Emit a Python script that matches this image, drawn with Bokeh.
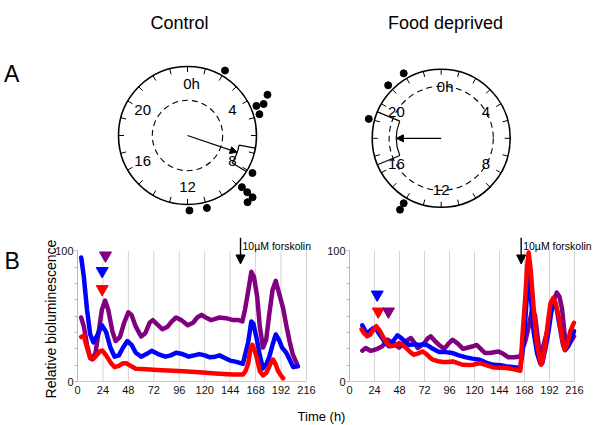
import math
import numpy as np
from bokeh.plotting import figure
from bokeh.layouts import column, row
from bokeh.models import Range1d, FixedTicker, Arrow, NormalHead
from bokeh.core.properties import value
from bokeh.embed import file_html
from bokeh.resources import INLINE

FONT = "Liberation Sans"
PURPLE = "#800080"
BLUE = "#0000ff"
RED = "#ff0000"

# ---------------- Panel A data (phases in hours on a 24 h clock) ----------------
clock_label_text = ["0h", "4", "8", "12", "16", "20"]
clock_label_hours = [0, 4, 8, 12, 16, 20]

ctrl_phase = [2.0, 4.45, 4.5, 4.2, 4.9, 8.0, 8.9, 8.9, 8.9, 9.2, 11.0, 11.9]
ctrl_stack = [0, 0, 1, 2, 0, 0, 0, 1, 2, 2, 0, 0]
ctrl_mean_phase = 7.25
ctrl_mean_length = 0.76
ctrl_ci = [6.7, 8.1]
ctrl_rayleigh = 0.51

fd_phase = [22.0, 21.0, 19.0, 14.0, 14.0]
fd_stack = [0, 0, 0, 0, 1]
fd_mean_phase = 18.0
fd_mean_length = 0.65
fd_ci = [16.5, 19.5]
fd_rayleigh = 0.755

# ---------------- Panel B data ----------------
time_ticks = [0, 24, 48, 72, 96, 120, 144, 168, 192, 216]
y_major = [0, 100]
y_minor = [12.5, 25, 37.5, 50, 62.5, 75, 87.5]

c_blue_t = [3.5, 6, 9, 12, 15, 19, 23, 27, 31, 35, 39, 43, 47, 51, 55, 60, 65, 70, 76, 83, 88, 93, 99, 105,
            110, 115, 120, 125, 130, 134, 139, 144, 150, 156, 158, 161, 164, 166, 169, 172, 175, 178, 181,
            184, 187, 190, 193, 197, 200, 203.5, 208]
c_blue_v = [95, 80, 55, 36, 30, 36, 43, 38, 26, 19, 20, 26, 31, 28, 22, 19, 21, 23.5, 21, 19, 20, 22, 21, 19,
            20, 21, 20, 18.5, 19, 20, 18, 16, 15, 13.5, 20, 30, 46, 44, 33, 20, 10, 13, 19,
            28, 36, 32, 26, 22, 17, 11, 11.6]

c_purple_t = [3.5, 6, 9, 12, 14, 17, 20, 23, 26, 29, 33, 36, 40, 44, 48, 51, 55, 60, 64, 68, 71, 75, 80, 85,
              89, 93, 98, 104, 109, 113, 117, 121, 126, 130, 134, 140, 146.7, 152, 155.5, 158, 161, 164,
              166.5, 169.5, 172, 175, 178, 181, 184, 187, 190, 194, 197, 200, 203, 207]
c_purple_v = [49, 42, 28, 18, 17, 22, 38, 55, 62, 55, 38, 31, 34, 45, 53, 51, 42, 34.5, 37, 45, 47, 44, 40, 42,
              46, 49, 47, 43, 45, 49, 51, 49, 47, 48, 49, 48.5, 47, 47, 46, 55, 69, 84,
              80, 65, 42, 26, 32, 52, 70, 77, 68, 56, 43, 31, 21, 13.5]

c_red_t = [3.5, 6, 9, 12, 15, 18, 21, 23.5, 27, 31, 35, 39, 43, 46, 50, 55, 65, 75, 85, 100, 115, 130, 146.7,
           156, 158.5, 161, 163, 165, 167, 169, 172, 175, 178, 180, 182.5, 184.5, 187, 189, 192, 194]
c_red_v = [34, 35, 26, 18, 17.5, 20, 23, 23.7, 20, 14.8, 11, 12, 14, 14, 12, 9.7, 9.3, 8.8, 8.4, 7.8, 7.1, 6.2,
           5.3, 5.3, 8, 13.5, 24, 28, 24, 18.6, 8, 4.6, 6.5, 9.7, 14.5, 16.8, 13, 8.4, 4.5, 2.5]

f_blue_t = [12.3, 15, 17, 20, 23, 25, 28, 31.6, 35, 38, 42, 46, 50, 54, 57, 62, 67, 71, 75, 80, 86, 92, 99,
            105, 112, 118, 125, 131, 138, 145, 151, 158, 164, 166, 168, 170, 172, 174, 176.8, 180, 183,
            185, 188, 191, 194, 196, 199, 202.6, 205, 207, 210, 213, 215.5]
f_blue_v = [43, 39, 37, 39, 41, 41, 37, 33, 29, 27, 31, 35.4, 33, 30, 28, 28.5, 28, 28.5, 27.7, 25, 22.6, 22.5,
            21.8, 20, 18.5, 17.5, 16.7, 14.5, 12.8, 12.5, 11.5, 11, 10.3, 22, 38, 62, 79.5, 66, 38, 22, 14,
            14, 25, 38, 55, 61.5, 55, 38.5, 28, 24, 27, 33, 38.5]

f_red_t = [11.6, 14, 17, 20, 23, 25.8, 29, 33, 36, 39.7, 43, 47.7, 51, 56, 59, 62, 66, 70, 74, 77, 80, 85,
           89.7, 94, 99, 104, 109, 114, 118.7, 122, 125, 131, 138, 145, 151, 158, 164, 166, 168.7, 170.5,
           172, 174, 176.8, 180, 183.9, 186, 188.5, 191, 193, 195.5, 198, 201, 204, 206.5, 209, 212, 215.5]
f_red_v = [40, 37, 34.6, 36, 40, 42.3, 39, 33, 29, 27, 27.5, 29.5, 28, 24.4, 22, 20.5, 21.5, 23, 21, 18.5,
           16.7, 15.5, 14.9, 15, 15.4, 14, 12.8, 12.7, 12.8, 13.5, 14, 12.5, 10.8, 10.5, 10.3, 9.3, 8.2, 35,
           64, 88, 98.7, 85, 56, 28, 12.8, 18, 32, 48.7, 60, 64, 60, 48.7, 33, 24.4, 28, 38.5, 45]

f_purple_t = [12.3, 15.5, 20, 23, 26.8, 31.6, 36.5, 41.3, 47.7, 51, 54, 59, 62, 65.5, 68, 72, 75, 78, 82, 86,
              91, 95, 99, 104, 109, 114, 118.7, 122, 126, 130, 136, 143, 148, 152.6, 158, 164, 166, 168.7,
              172, 175, 178, 180.5, 183, 186, 189.7, 193, 196, 199, 201.5, 204, 206, 208, 212, 215.5]
f_purple_v = [23.6, 25.6, 23.6, 24, 25, 27, 32, 29.5, 26, 28, 30.8, 33.3, 30, 25.6, 27, 29.5, 33, 34.6, 31, 28,
              25, 29, 32, 29, 25, 26, 27, 28, 25, 21.8, 22, 23, 21, 18.5, 18.5, 19.2, 25, 30.8,
              42, 54, 51, 35, 18, 27, 38.5, 52, 62, 68, 65, 56, 40, 25.6, 30, 34.6]

# arrowhead markers (time, level, colour) and forskolin addition time
c_marker_t = [26.4, 23.3, 23.3]
c_marker_v = [96.5, 84.6, 70.8]
c_marker_c = [PURPLE, BLUE, RED]
f_marker_t = [26.6, 27.6, 37.4]
f_marker_v = [66.6, 53.6, 53.6]
f_marker_c = [BLUE, RED, PURPLE]
c_forskolin_t = 153.8
f_forskolin_t = 164.8
forskolin_text = "10\u00b5M forskolin"

# ---------------- helpers ----------------
R_PX = 69.0      # outer clock radius in pixels
PX_PER_V = 1.306  # vertical pixels per unit of relative bioluminescence


def clock_xy(hours, r):
    th = np.asarray(hours, float) / 24.0 * 2 * np.pi
    r = np.asarray(r, float)
    return r * np.sin(th), r * np.cos(th)


def math_angle(h):
    return np.pi / 2 - h / 24.0 * 2 * np.pi


def make_clock(width, height, left_px, top_px, cx_px, cy_px, title, title_px,
               phases, stack, mean_h, mean_len, ci, crit, letter=None):
    x0 = (left_px - cx_px) / R_PX
    x1 = (left_px + width - cx_px) / R_PX
    y1 = (cy_px - top_px) / R_PX
    y0 = (cy_px - top_px - height) / R_PX
    p = figure(width=width, height=height, x_range=Range1d(x0, x1), y_range=Range1d(y0, y1),
               output_backend="svg", toolbar_location=None, x_axis_location=None,
               y_axis_location=None, min_border=0)
    p.grid.visible = False
    p.outline_line_color = None
    p.circle(x=[0], y=[0], radius=1.0, fill_color=None, line_color="black", line_width=1.6)
    p.circle(x=[0], y=[0], radius=crit, fill_color=None, line_color="black", line_width=1.1,
             line_dash="6 4")
    hrs = np.arange(24)
    ax, ay = clock_xy(hrs, 1.0)
    bx, by = clock_xy(hrs, 0.92)
    p.segment(x0=ax, y0=ay, x1=bx, y1=by, line_color="black", line_width=1)
    lx, ly = clock_xy(clock_label_hours, 0.75)
    offs = [4 if t.endswith("h") else 0 for t in clock_label_text]
    p.text(x=lx, y=ly, text=clock_label_text, x_offset=offs, text_align="center",
           text_baseline="middle", text_font=value(FONT), text_font_size="15px", text_color="black")
    cx0, cy0 = clock_xy(ci, [mean_len, mean_len])
    cx1, cy1 = clock_xy(ci, [1.0, 1.0])
    p.segment(x0=cx0, y0=cy0, x1=cx1, y1=cy1, line_color="black", line_width=1.2)
    p.arc(x=[0], y=[0], radius=mean_len, start_angle=math_angle(ci[1]), end_angle=math_angle(ci[0]),
          direction="anticlock", line_color="black", line_width=1.2)
    mx, my = clock_xy([mean_h], [mean_len])
    p.add_layout(Arrow(x_start=0, y_start=0, x_end=float(mx[0]), y_end=float(my[0]),
                       line_color="black", line_width=1.2,
                       end=NormalHead(size=7, fill_color="black", line_color="black")))
    rr = 1.087 + 0.107 * np.asarray(stack, float)
    dx, dy = clock_xy(phases, rr)
    p.scatter(x=dx, y=dy, size=7, color="black")
    tx = (title_px[0] - cx_px) / R_PX
    ty = (cy_px - title_px[1]) / R_PX
    p.text(x=[tx], y=[ty], text=[title], text_align="center", text_baseline="middle",
           text_font=value(FONT), text_font_size="18px", text_color="black")
    if letter:
        p.text(x=[(3.5 - cx_px) / R_PX], y=[(cy_px - 73.5) / R_PX], text=[letter], text_align="left",
               text_baseline="middle", text_font=value(FONT), text_font_size="23px", text_color="black")
    return p


def make_chart(width, height, left_px, top_px, zero_px, zero_py, px_per_h, series, m_t, m_v, m_c,
               forsk_t, text_dx):
    x_start = (left_px - zero_px) / px_per_h
    x_end = (left_px + width - zero_px) / px_per_h
    y_end = (zero_py - top_px) / PX_PER_V
    y_start = (zero_py - top_px - height) / PX_PER_V
    p = figure(width=width, height=height,
               x_range=Range1d(x_start, x_end), y_range=Range1d(y_start, y_end),
               output_backend="svg", toolbar_location=None, min_border=0)
    p.grid.visible = False
    p.outline_line_color = None
    p.segment(x0=time_ticks[1:], y0=0, x1=time_ticks[1:], y1=100, line_color="#d4d4d4", line_width=1)
    p.xaxis.fixed_location = 0
    p.xaxis.ticker = FixedTicker(ticks=time_ticks)
    p.xaxis.bounds = (0, 216)
    p.xaxis.axis_line_color = "#c8c8c8"
    p.xaxis.major_tick_out = 0
    p.xaxis.major_tick_in = 0
    p.xaxis.minor_tick_line_color = None
    p.xaxis.major_label_standoff = 4
    p.yaxis.fixed_location = 0
    p.yaxis.ticker = FixedTicker(ticks=y_major, minor_ticks=y_minor)
    p.yaxis.bounds = (0, 100)
    p.yaxis.axis_line_color = "#b8b8b8"
    p.yaxis.major_tick_line_color = "#b8b8b8"
    p.yaxis.minor_tick_line_color = "#b8b8b8"
    p.yaxis.major_tick_in = 0
    p.yaxis.minor_tick_in = 0
    p.yaxis.major_tick_out = 3
    p.yaxis.minor_tick_out = 3
    p.yaxis.major_label_standoff = 1
    for ax in (p.xaxis, p.yaxis):
        ax.major_label_text_font = FONT
        ax.major_label_text_font_size = "11px"
        ax.major_label_text_color = "#111111"
    for t, v, c in series:
        p.line(t, v, line_color=c, line_width=4.5, line_join="round", line_cap="round")
    p.scatter(x=m_t, y=m_v, marker="inverted_triangle", size=12, color=m_c)
    p.add_layout(Arrow(x_start=forsk_t, y_start=110, x_end=forsk_t, y_end=90, line_color="black",
                       line_width=1.4, end=NormalHead(size=9, fill_color="black", line_color="black")))
    p.text(x=[forsk_t], y=[103.8], text=[forskolin_text], x_offset=text_dx, text_align="left",
           text_baseline="alphabetic", text_font=value(FONT), text_font_size="10.5px",
           text_color="black")
    return p


# ---------------- build figures (page has no margin: 600 x 425) ----------------
top_l = make_clock(300, 226, 0, 0, 187.0, 135.0, "Control", (179, 22),
                   ctrl_phase, ctrl_stack, ctrl_mean_phase, ctrl_mean_length, ctrl_ci, ctrl_rayleigh,
                   letter="A")
top_r = make_clock(300, 226, 300, 0, 440.7, 137.8, "Food deprived", (445, 22),
                   fd_phase, fd_stack, fd_mean_phase, fd_mean_length, fd_ci, fd_rayleigh)

L_ZERO, L_SCALE = 77.0, 1.06
R_ZERO, R_SCALE = 349.0, 1.0417
Y_ZERO = 381.0
bot_l = make_chart(318, 180, 0, 226, L_ZERO, Y_ZERO, L_SCALE,
                   [(c_purple_t, c_purple_v, PURPLE), (c_blue_t, c_blue_v, BLUE), (c_red_t, c_red_v, RED)],
                   c_marker_t, c_marker_v, c_marker_c, c_forskolin_t, 2)
bot_r = make_chart(282, 180, 318, 226, R_ZERO, Y_ZERO, R_SCALE,
                   [(f_purple_t, f_purple_v, PURPLE), (f_blue_t, f_blue_v, BLUE), (f_red_t, f_red_v, RED)],
                   f_marker_t, f_marker_v, f_marker_c, f_forskolin_t, 2)

bot_l.text(x=[(50 - L_ZERO) / L_SCALE], y=[(Y_ZERO - 318.5) / PX_PER_V], text=["Relative bioluminescence"],
           angle=math.pi / 2, text_align="center", text_baseline="middle",
           text_font=value(FONT), text_font_size="14px", text_color="black")
bot_l.text(x=[(4 - L_ZERO) / L_SCALE], y=[(Y_ZERO - 260) / PX_PER_V], text=["B"], text_align="left",
           text_baseline="middle", text_font=value(FONT), text_font_size="23px", text_color="black")

strip = figure(width=600, height=19, x_range=Range1d(0, 600), y_range=Range1d(425, 406),
               output_backend="svg", toolbar_location=None, x_axis_location=None,
               y_axis_location=None, min_border=0)
strip.grid.visible = False
strip.outline_line_color = None
strip.text(x=[321], y=[415.5], text=["Time (h)"], text_align="center", text_baseline="middle",
           text_font=value(FONT), text_font_size="13px", text_color="black")

p = column(row(top_l, top_r, spacing=0), row(bot_l, bot_r, spacing=0), strip, spacing=0)

open("out.html", "w").write(file_html(p, INLINE))
